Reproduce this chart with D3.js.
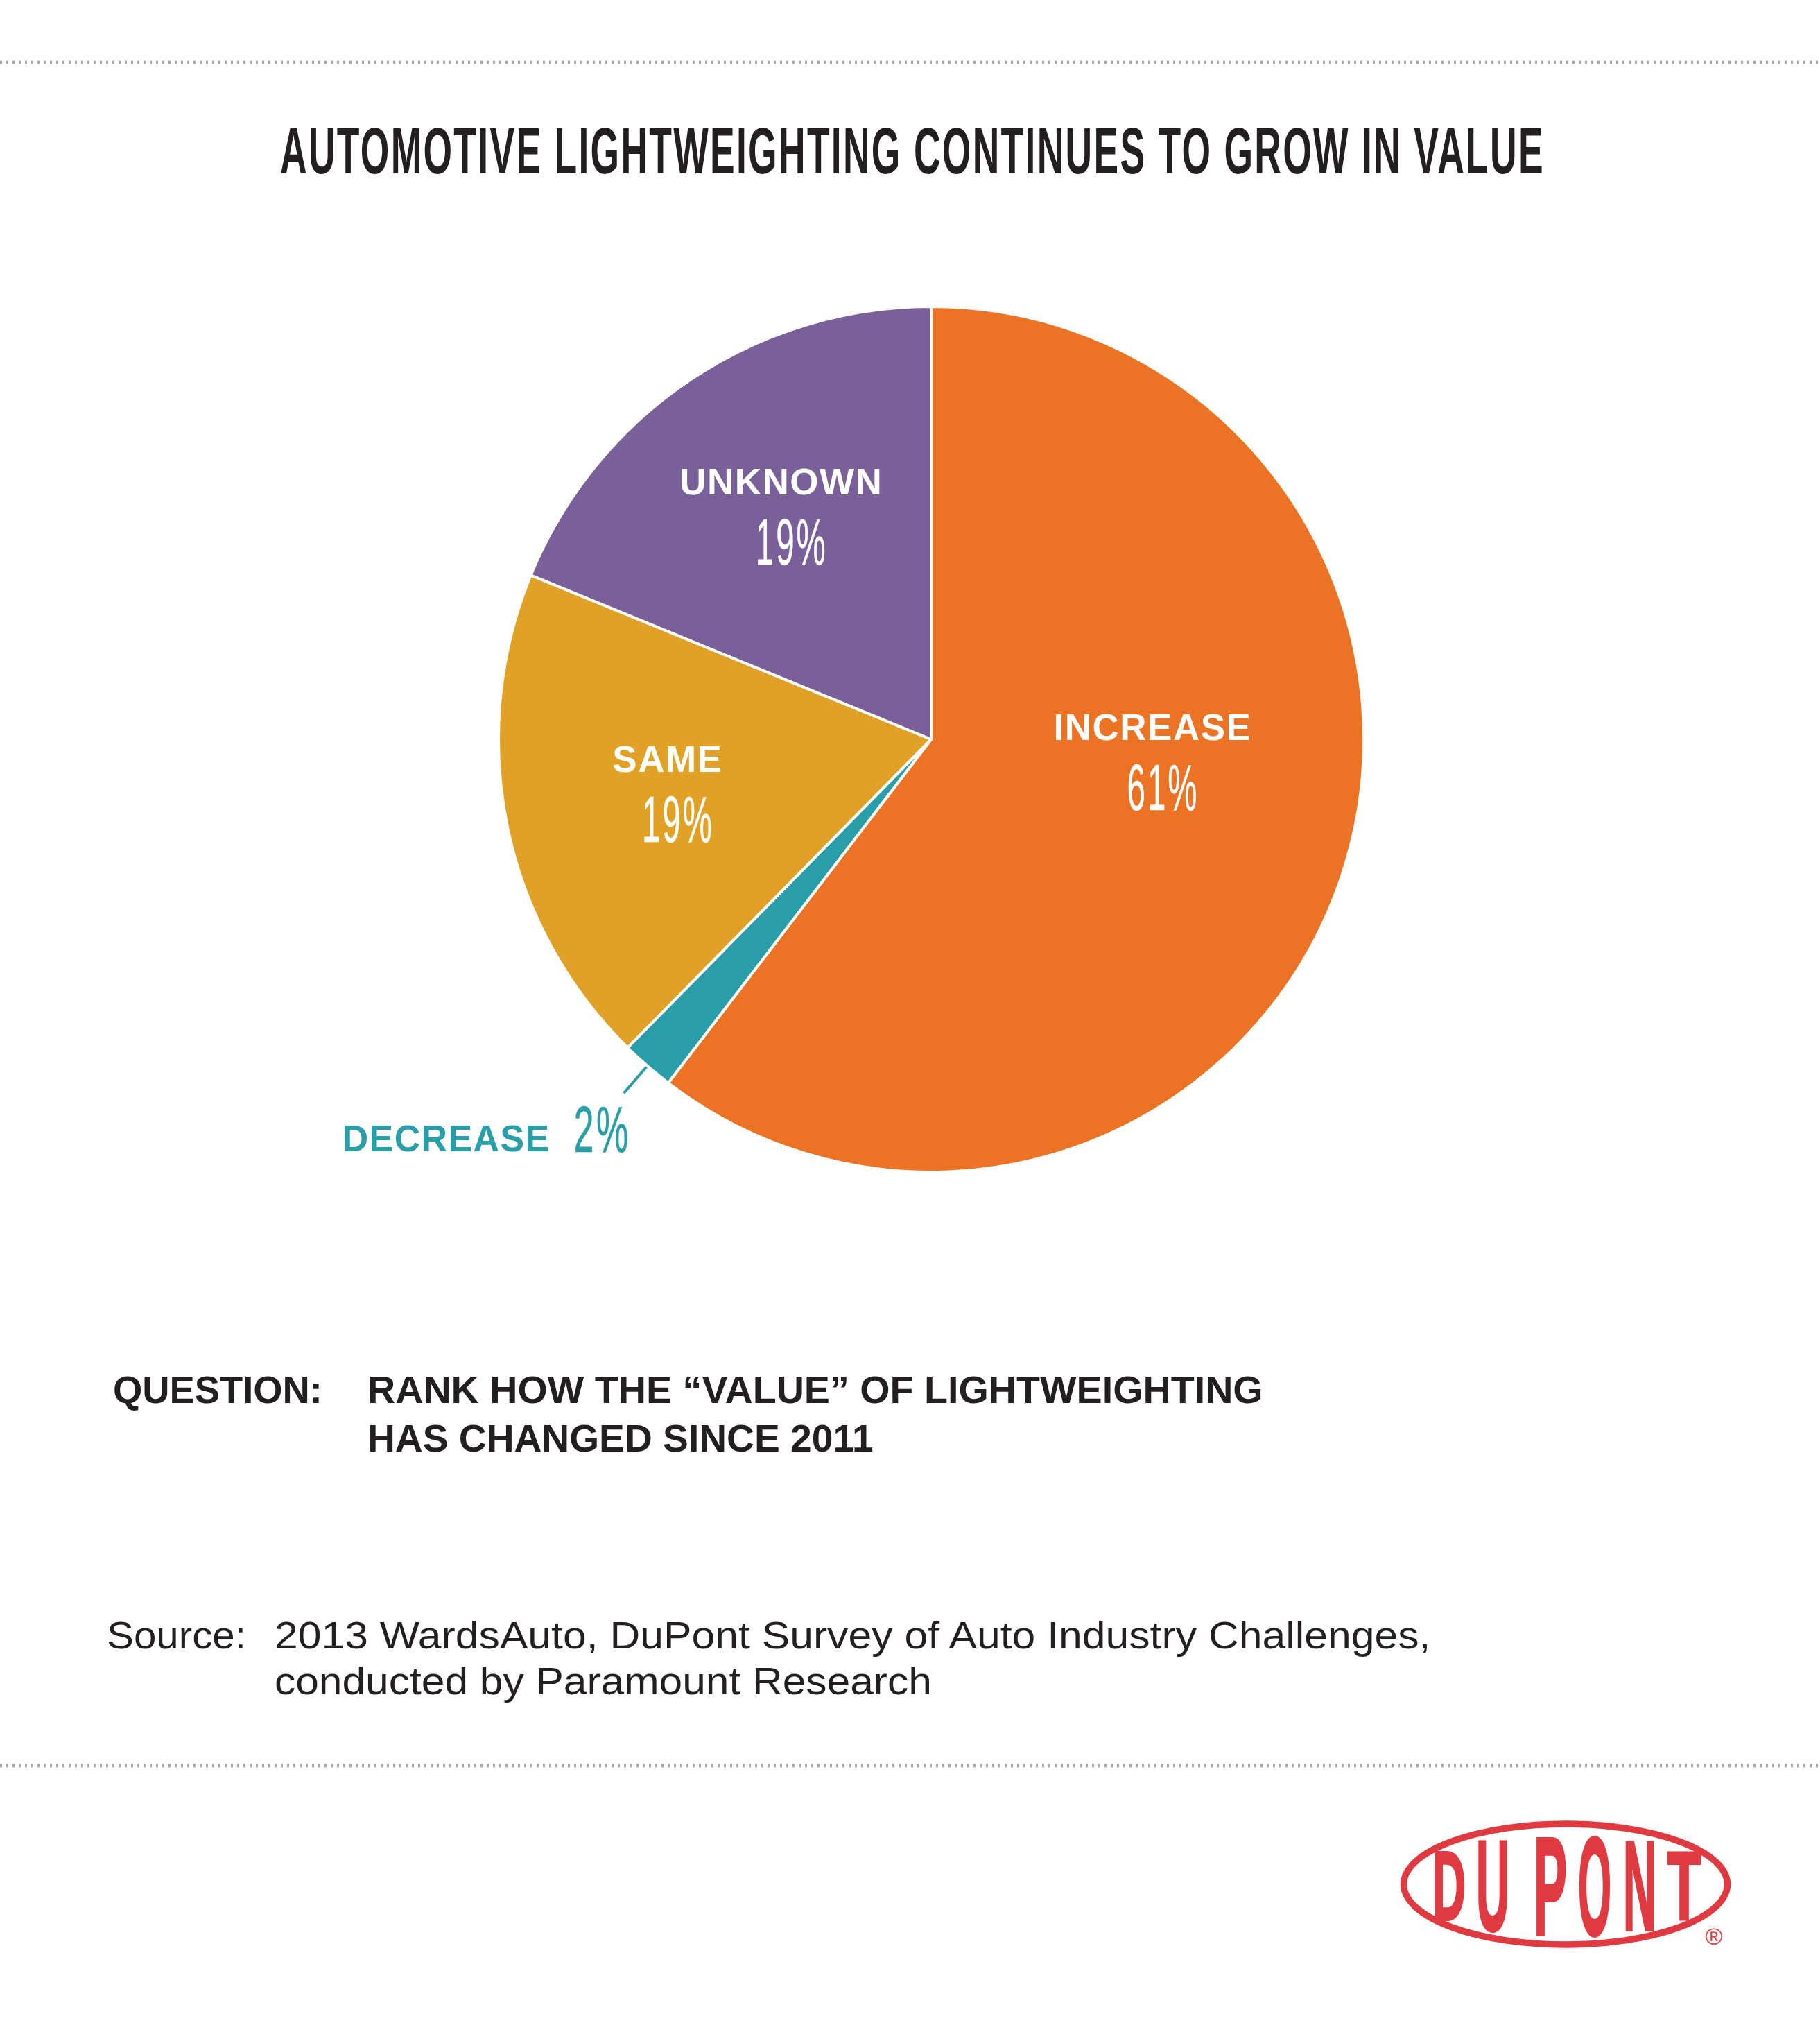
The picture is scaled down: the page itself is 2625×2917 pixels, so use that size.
<!DOCTYPE html>
<html>
<head>
<meta charset="utf-8">
<script src="https://d3js.org/d3.v7.min.js"></script>
<style>
  body { margin: 0; background: #fff; }
  text { font-family: "Liberation Sans", Arial, sans-serif; }
</style>
</head>
<body>
<script>
var W = 2625, H = 2917;

// chart data
var categories = ["INCREASE", "DECREASE", "SAME", "UNKNOWN"];
var values = [61, 2, 19, 19];
var pctLabels = ["61%", "2%", "19%", "19%"];
var colors = ["#EC7224", "#2A9EA8", "#E0A126", "#7A6098"];

var title = "AUTOMOTIVE LIGHTWEIGHTING CONTINUES TO GROW IN VALUE";
var questionLines = ["RANK HOW THE \u201CVALUE\u201D OF LIGHTWEIGHTING", "HAS CHANGED SINCE 2011"];
var sourceLines = ["2013 WardsAuto, DuPont Survey of Auto Industry Challenges,", "conducted by Paramount Research"];

var ink = "#231f20";
var cx = 1343, cy = 1066, R = 624;

var svg = d3.select("body").append("svg")
  .attr("width", W).attr("height", H)
  .style("background", "#fff");

// squeeze a text horizontally to a given width (anchor handled by text-anchor)
function squeeze(t, x, y, w) {
  var L = t.node().getComputedTextLength();
  t.attr("x", 0).attr("y", 0)
   .attr("transform", "translate(" + x + "," + y + ") scale(" + (w / L) + ",1)");
  return t;
}

// dotted rules
[90, 2546].forEach(function(y) {
  svg.append("line")
    .attr("x1", 0).attr("x2", W).attr("y1", y).attr("y2", y)
    .attr("stroke", "#a7a9ac").attr("stroke-width", 5)
    .attr("stroke-dasharray", "3,6");
});

// title
var tt = svg.append("text")
  .attr("font-size", 94).attr("font-weight", "bold")
  .attr("fill", ink)
  .attr("letter-spacing", 4)
  .text(title);
squeeze(tt, 404, 250, 1824);

// pie
var pie = d3.pie().sort(null).value(function(d) { return d; });
var arcs = pie(values);
var arc = d3.arc().innerRadius(0).outerRadius(R);
var labelArc = d3.arc().innerRadius(388).outerRadius(388);

var g = svg.append("g").attr("transform", "translate(" + cx + "," + cy + ")");

g.selectAll("path.slice")
  .data(arcs)
  .enter().append("path")
  .attr("class", "slice")
  .attr("d", arc)
  .attr("fill", function(d, i) { return colors[i]; })
  .attr("stroke", "#fff")
  .attr("stroke-width", 4)
  .attr("stroke-linejoin", "round");

// nudges for label blocks that don't sit on the centroid
var labelShift = { INCREASE: [-48, -92] };

arcs.forEach(function(d, i) {
  var name = categories[i];
  if (name === "DECREASE") return;
  var c = labelArc.centroid(d);
  var s = labelShift[name] || [0, 0];
  var x = c[0] + s[0], y = c[1] + s[1];
  g.append("text")
    .attr("x", x).attr("y", y - 31)
    .attr("text-anchor", "middle")
    .attr("font-size", 53).attr("font-weight", "bold")
    .attr("letter-spacing", 1.5)
    .attr("fill", "#fff")
    .text(name);
  var p = g.append("text")
    .attr("text-anchor", "middle")
    .attr("font-size", 95)
    .attr("letter-spacing", 6)
    .attr("fill", "#fff").attr("stroke", "#fff").attr("stroke-width", 0.6)
    .text(pctLabels[i]);
  squeeze(p, x + 15, y + 70, 104);
});

// small slice: leader line and outside label
var di = categories.indexOf("DECREASE");
var dd = arcs[di];
var mid = (dd.startAngle + dd.endAngle) / 2;
function pt(r) { return [r * Math.sin(mid), -r * Math.cos(mid)]; }
var p0 = pt(R + 2), p1 = pt(R + 52);
g.append("line")
  .attr("x1", p0[0]).attr("y1", p0[1]).attr("x2", p1[0]).attr("y2", p1[1])
  .attr("stroke", colors[di]).attr("stroke-width", 4);

var pctX = p1[0] + 10, baseY = p1[1] + 85;
var dp = g.append("text")
  .attr("text-anchor", "end")
  .attr("font-size", 95)
  .attr("letter-spacing", 6)
  .attr("fill", colors[di]).attr("stroke", colors[di]).attr("stroke-width", 0.6)
  .text(pctLabels[di]);
squeeze(dp, pctX, baseY, 82);
var dl = g.append("text")
  .attr("text-anchor", "end")
  .attr("font-size", 54).attr("font-weight", "bold")
  .attr("letter-spacing", 1.5)
  .attr("fill", colors[di])
  .text(categories[di]);
squeeze(dl, pctX - 116, baseY - 1, 300);

// question
var q0 = svg.append("text")
  .attr("font-size", 56).attr("font-weight", "bold").attr("fill", ink)
  .text("QUESTION:");
squeeze(q0, 163, 2023, 302);
var qLen = [1292, 730];
questionLines.forEach(function(t, i) {
  var q = svg.append("text")
    .attr("font-size", 56).attr("font-weight", "bold").attr("fill", ink)
    .text(t);
  squeeze(q, 530, 2023 + i * 70, qLen[i]);
});

// source
var s0 = svg.append("text")
  .attr("font-size", 56).attr("fill", ink)
  .text("Source:");
squeeze(s0, 154, 2377, 201);
var sLen = [1668, 948];
sourceLines.forEach(function(t, i) {
  var s = svg.append("text")
    .attr("font-size", 56).attr("fill", ink)
    .text(t);
  squeeze(s, 396, 2377 + i * 66, sLen[i]);
});

// DuPont oval logo
var red = "#E03A40";
var lx = 2258, ly = 2717;
var logo = svg.append("g");
logo.append("ellipse")
  .attr("cx", lx).attr("cy", ly).attr("rx", 233.5).attr("ry", 87)
  .attr("fill", "none").attr("stroke", red).attr("stroke-width", 9.5);
var letters = ["D", "U", "P", "O", "N", "T"];
var letterX = [2090, 2153, 2236, 2300, 2365, 2429];
letters.forEach(function(ch, i) {
  var dx = letterX[i] - lx;
  var h = 2 * 83 * Math.sqrt(1 - Math.pow(dx / 229, 2)) * 0.9;
  h = Math.min(h, 145);
  var t = logo.append("text")
    .attr("text-anchor", "middle")
    .attr("font-size", h / 0.716).attr("font-weight", "bold")
    .attr("fill", red).attr("stroke", red).attr("stroke-width", 4)
    .text(ch);
  squeeze(t, letterX[i], ly + h / 2, 48);
});
logo.append("text")
  .attr("x", 2472).attr("y", 2804)
  .attr("text-anchor", "middle")
  .attr("font-size", 34).attr("fill", red)
  .text("\u00AE");
</script>
</body>
</html>
